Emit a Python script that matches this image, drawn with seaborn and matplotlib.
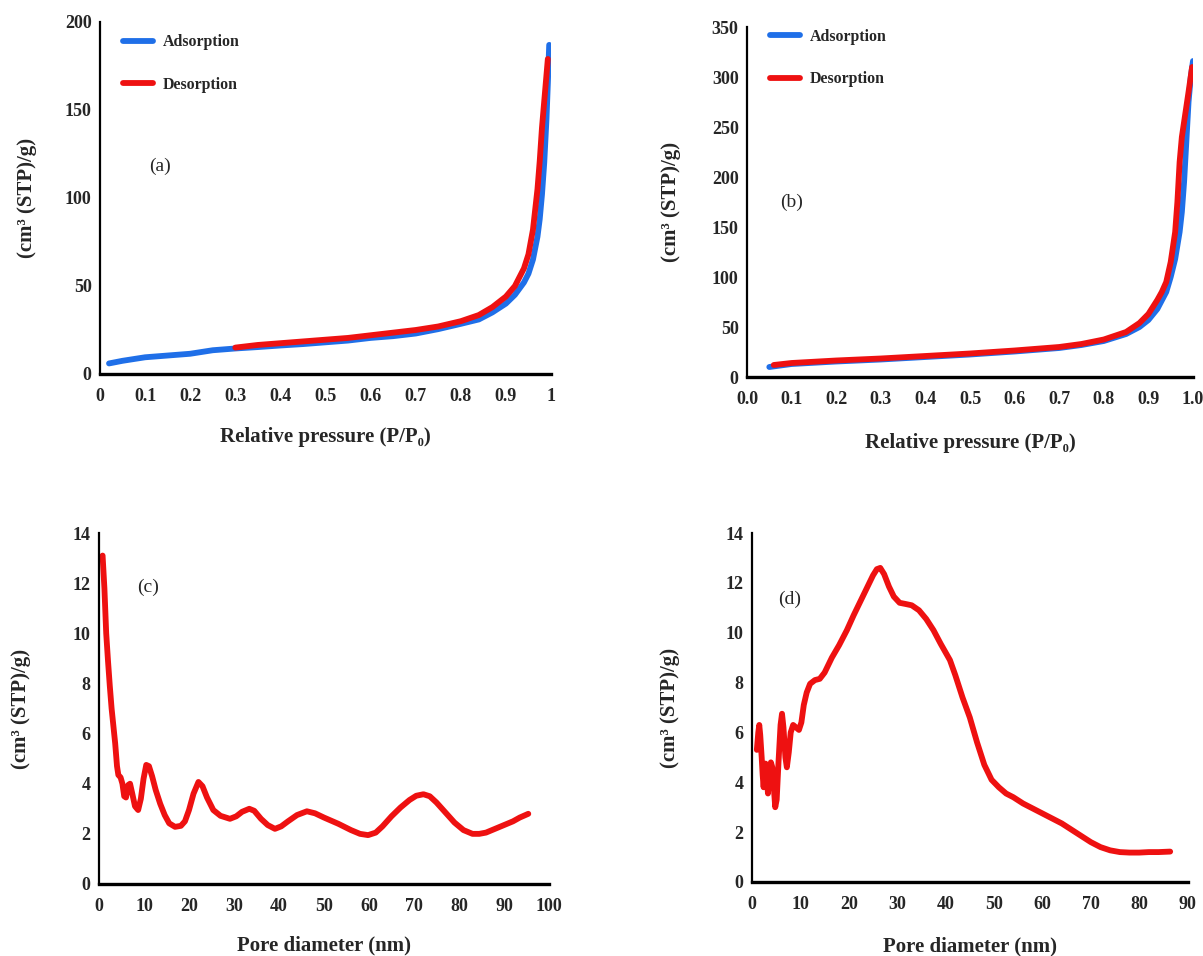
import matplotlib
matplotlib.use("Agg")
import matplotlib.pyplot as plt
import seaborn as sns
import pandas as pd

# ---------------- data ----------------
# (a) isotherm
a_ads_x = [0.02, 0.05, 0.1, 0.15, 0.2, 0.25, 0.3, 0.35, 0.4, 0.45, 0.5, 0.55, 0.6, 0.65, 0.7, 0.75,
           0.8, 0.84, 0.87, 0.9, 0.92, 0.94, 0.95, 0.96, 0.97, 0.975, 0.98, 0.985, 0.99, 0.993, 0.996]
a_ads_y = [6, 7.5, 9.5, 10.5, 11.5, 13.5, 14.5, 15.3, 16.2, 17, 18, 19, 20.5, 21.5, 23, 25.5,
           28.5, 31, 35, 40, 45, 52, 57, 65, 78, 88, 102, 120, 145, 165, 187]
a_des_x = [0.3, 0.35, 0.4, 0.45, 0.5, 0.55, 0.6, 0.65, 0.7, 0.75, 0.8, 0.84, 0.87, 0.9, 0.92,
           0.94, 0.95, 0.96, 0.97, 0.975, 0.98, 0.985, 0.99, 0.993]
a_des_y = [15, 16.5, 17.5, 18.5, 19.5, 20.5, 22, 23.5, 25, 27, 30, 33.5, 38, 44, 50,
           60, 68, 82, 105, 121, 140, 155, 170, 179]

# (b) isotherm
b_ads_x = [0.05, 0.1, 0.2, 0.3, 0.4, 0.5, 0.6, 0.7, 0.75, 0.8, 0.85, 0.88, 0.9, 0.92, 0.94,
           0.95, 0.96, 0.97, 0.975, 0.98, 0.985, 0.99, 0.995, 1.0]
b_ads_y = [10, 13, 15.5, 17.5, 20, 22.5, 25.5, 29, 32, 36, 43, 50, 57, 68, 85,
           100, 118, 145, 165, 195, 235, 275, 300, 316]
b_des_x = [0.06, 0.1, 0.2, 0.3, 0.4, 0.5, 0.6, 0.7, 0.75, 0.8, 0.85, 0.88, 0.9, 0.92, 0.93,
           0.94, 0.95, 0.96, 0.965, 0.97, 0.975, 0.98, 0.99, 0.998]
b_des_y = [12, 14, 16.5, 18.5, 21, 23.5, 26.5, 30, 33, 37.5, 45, 54, 63, 77, 85,
           95, 115, 145, 175, 215, 240, 255, 285, 310]

# (c) pore size distribution
c_x = [0.8, 1.2, 1.6, 2.0, 2.4, 2.8, 3.2, 3.6, 4.0, 4.3, 4.8, 5.2, 5.6, 6.0, 6.5, 6.9, 7.4, 8.0,
       8.7, 9.3, 9.9, 10.5, 11.1, 11.8, 12.6, 13.6, 14.6, 15.6, 16.9, 18.2, 19.1, 20.0, 21.0,
       22.1, 23.0, 24.0, 25.4, 27.0, 29.1, 30.5, 31.8, 33.4, 34.5, 36.0, 37.5, 39.1, 40.5, 42.0,
       44.0, 46.2, 48.0, 50.0, 53.2, 56.0, 58.0, 59.8, 61.5, 63.0, 65.0, 67.0, 69.0, 70.5, 72.1,
       73.5, 75.0, 77.0, 79.0, 81.0, 83.0, 84.5, 86.0, 88.0, 90.0, 92.0, 93.5, 95.4]
c_y = [13.1, 11.8, 10.0, 8.9, 7.9, 7.0, 6.3, 5.6, 4.7, 4.35, 4.25, 4.0, 3.5, 3.45, 3.95, 4.0, 3.6,
       3.1, 2.95, 3.4, 4.2, 4.75, 4.7, 4.3, 3.75, 3.2, 2.75, 2.42, 2.28, 2.32, 2.5, 2.95, 3.6,
       4.07, 3.9, 3.45, 2.95, 2.72, 2.6, 2.7, 2.88, 3.0, 2.92, 2.6, 2.35, 2.2, 2.3, 2.5,
       2.75, 2.9, 2.82, 2.65, 2.4, 2.15, 2.0, 1.95, 2.05, 2.3, 2.7, 3.05, 3.35, 3.52, 3.58,
       3.5, 3.25, 2.85, 2.45, 2.15, 2.0, 2.0, 2.05, 2.2, 2.35, 2.5, 2.65, 2.8]

# (d) pore size distribution
d_x = [1.0, 1.3, 1.5, 1.7, 2.0, 2.2, 2.4, 2.6, 2.8, 3.0, 3.3, 3.6, 3.9, 4.2, 4.5, 4.8, 5.1, 5.5,
       5.9, 6.2, 6.5, 6.9, 7.2, 7.6, 8.0, 8.5, 9.1, 9.7, 10.2, 10.7, 11.3, 12.0, 13.0, 14.0, 15.0,
       16.5, 18.0, 19.6, 21.0, 22.5, 24.0, 25.0, 25.8, 26.5, 27.3, 28.3, 29.3, 30.5, 31.8, 33.0,
       34.5, 36.0, 37.5, 39.0, 40.9, 42.0, 43.5, 45.0, 46.5, 48.0, 49.5, 51.0, 52.5, 54.0, 56.0,
       58.0, 60.0, 62.0, 64.0, 66.0, 68.0, 70.0, 72.0, 74.0, 76.0, 78.0, 80.0, 82.0, 84.0, 86.4]
d_y = [5.3, 6.0, 6.3, 5.9, 5.0, 4.3, 3.8, 4.5, 4.75, 4.2, 3.55, 4.4, 4.8, 4.6, 3.8, 3.0, 3.3, 4.9,
       6.3, 6.75, 6.2, 5.0, 4.6, 5.2, 6.0, 6.3, 6.2, 6.1, 6.4, 7.1, 7.6, 7.95, 8.1, 8.15, 8.4,
       9.0, 9.5, 10.1, 10.7, 11.3, 11.9, 12.3, 12.55, 12.6, 12.35, 11.85, 11.45, 11.2, 11.15, 11.1,
       10.9, 10.55, 10.1, 9.55, 8.9, 8.3, 7.4, 6.6, 5.6, 4.7, 4.1, 3.8, 3.55, 3.4, 3.15,
       2.95, 2.75, 2.55, 2.35, 2.1, 1.85, 1.6, 1.4, 1.27, 1.2, 1.18, 1.18, 1.2, 1.2, 1.22]

a_xticks = [0, 0.1, 0.2, 0.3, 0.4, 0.5, 0.6, 0.7, 0.8, 0.9, 1]
a_xlabels = ["0", "0.1", "0.2", "0.3", "0.4", "0.5", "0.6", "0.7", "0.8", "0.9", "1"]
a_yticks = [0, 50, 100, 150, 200]
b_xticks = [0.0, 0.1, 0.2, 0.3, 0.4, 0.5, 0.6, 0.7, 0.8, 0.9, 1.0]
b_xlabels = ["0.0", "0.1", "0.2", "0.3", "0.4", "0.5", "0.6", "0.7", "0.8", "0.9", "1.0"]
b_yticks = [0, 50, 100, 150, 200, 250, 300, 350]
c_xticks = [0, 10, 20, 30, 40, 50, 60, 70, 80, 90, 100]
d_xticks = [0, 10, 20, 30, 40, 50, 60, 70, 80, 90]
cd_yticks = [0, 2, 4, 6, 8, 10, 12, 14]

ylabel = "(cm³ (STP)/g)"
xlabel_iso = "Relative pressure (P/P₀)"
xlabel_pore = "Pore diameter (nm)"

BLUE = "#1f6fe8"
RED = "#ee1111"
FAM = ["Liberation Serif", "DejaVu Serif"]

sns.set_theme(style="white")
plt.rcParams["font.family"] = FAM
plt.rcParams["font.weight"] = "bold"

fig = plt.figure(figsize=(12.03, 9.56), dpi=100)
W, H = 1203.0, 956.0


def make_ax(left_px, bottom_px, right_px, top_px):
    return fig.add_axes([left_px / W, 1 - bottom_px / H, (right_px - left_px) / W, (bottom_px - top_px) / H])


def style(ax, xlim, ylim, xticks, xlabels, yticks, xlab, xlabelpad, ylabelx):
    ax.set_xlim(*xlim)
    ax.set_ylim(*ylim)
    ax.set_xticks(xticks)
    ax.set_xticklabels(xlabels)
    ax.set_yticks(yticks)
    ax.set_yticklabels([str(v) for v in yticks])
    for s in ("top", "right"):
        ax.spines[s].set_visible(False)
    ax.spines["left"].set_color("black")
    ax.spines["left"].set_linewidth(1.6)
    ax.spines["bottom"].set_color("black")
    ax.spines["bottom"].set_linewidth(2.4)
    ax.tick_params(axis="both", length=0, labelsize=13)
    ax.tick_params(axis="x", pad=10)
    ax.tick_params(axis="y", pad=6)
    for lbl in ax.get_xticklabels() + ax.get_yticklabels():
        lbl.set_fontweight("bold")
        lbl.set_family(FAM)
    ax.set_xlabel(xlab, fontsize=15, fontweight="bold", family=FAM, labelpad=xlabelpad)
    ax.set_ylabel(ylabel, fontsize=15, fontweight="bold", family=FAM)
    ax.yaxis.set_label_coords(ylabelx, 0.5)
    ax.grid(False)
    ax.set_facecolor("white")


LW = 4.2
LEG_PROP = {"family": FAM, "weight": "bold", "size": 11.4}

# (a)
ax_a = make_ax(100, 374, 551, 22)
df_a1 = pd.DataFrame({"x": a_ads_x, "y": a_ads_y})
df_a2 = pd.DataFrame({"x": a_des_x, "y": a_des_y})
sns.lineplot(data=df_a1, x="x", y="y", ax=ax_a, color=BLUE, lw=LW, sort=False, estimator=None, label="Adsorption")
sns.lineplot(data=df_a2, x="x", y="y", ax=ax_a, color=RED, lw=LW, sort=False, estimator=None, label="Desorption")
style(ax_a, (0, 1), (0, 200), a_xticks, a_xlabels, a_yticks, xlabel_iso, 16, -0.14)
ax_a.legend(loc="upper left", bbox_to_anchor=(0.02, 1.005), frameon=False, handlelength=1.9, handletextpad=0.6,
            labelspacing=1.65, prop=LEG_PROP)
ax_a.text(0.11, 0.59, "(a)", transform=ax_a.transAxes, fontsize=14, fontweight="normal", family=FAM, va="center")

# (b)
ax_b = make_ax(747, 377, 1193, 27)
df_b1 = pd.DataFrame({"x": b_ads_x, "y": b_ads_y})
df_b2 = pd.DataFrame({"x": b_des_x, "y": b_des_y})
sns.lineplot(data=df_b1, x="x", y="y", ax=ax_b, color=BLUE, lw=LW, sort=False, estimator=None, label="Adsorption")
sns.lineplot(data=df_b2, x="x", y="y", ax=ax_b, color=RED, lw=LW, sort=False, estimator=None, label="Desorption")
style(ax_b, (0, 1.0), (0, 350), b_xticks, b_xlabels, b_yticks, xlabel_iso, 18, -0.148)
ax_b.legend(loc="upper left", bbox_to_anchor=(0.02, 1.035), frameon=False, handlelength=1.9, handletextpad=0.6,
            labelspacing=1.65, prop=LEG_PROP)
ax_b.text(0.075, 0.50, "(b)", transform=ax_b.transAxes, fontsize=14, fontweight="normal", family=FAM, va="center")

# (c)
ax_c = make_ax(99, 884, 549, 533)
df_c = pd.DataFrame({"x": c_x, "y": c_y})
sns.lineplot(data=df_c, x="x", y="y", ax=ax_c, color=RED, lw=LW, sort=False, estimator=None)
style(ax_c, (0, 100), (0, 14), c_xticks, [str(v) for v in c_xticks], cd_yticks, xlabel_pore, 15, -0.15)
ax_c.text(0.085, 0.845, "(c)", transform=ax_c.transAxes, fontsize=14, fontweight="normal", family=FAM, va="center")

# (d)
ax_d = make_ax(752, 882, 1187.6, 533)
df_d = pd.DataFrame({"x": d_x, "y": d_y})
sns.lineplot(data=df_d, x="x", y="y", ax=ax_d, color=RED, lw=LW, sort=False, estimator=None)
style(ax_d, (0, 90), (0, 14), d_xticks, [str(v) for v in d_xticks], cd_yticks, xlabel_pore, 17, -0.165)
ax_d.text(0.06, 0.81, "(d)", transform=ax_d.transAxes, fontsize=14, fontweight="normal", family=FAM, va="center")

for ax in (ax_a, ax_b, ax_c, ax_d):
    for line in ax.get_lines():
        line.set_solid_capstyle("round")
        line.set_solid_joinstyle("round")

fig.savefig("out.png", dpi=100, facecolor="white")
